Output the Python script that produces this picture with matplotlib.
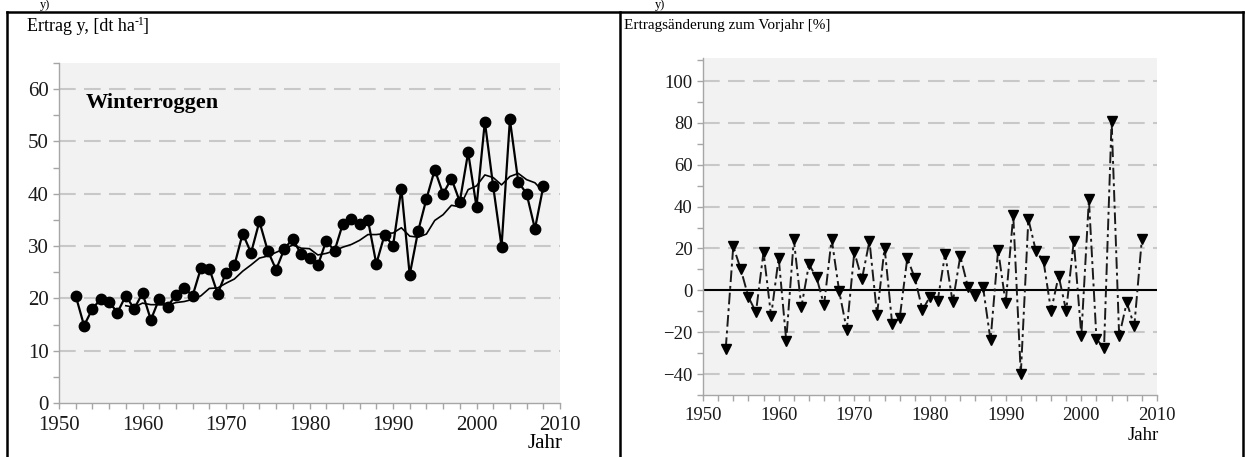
import matplotlib
matplotlib.use("Agg")
import matplotlib.pyplot as plt
from matplotlib.lines import Line2D
from matplotlib.ticker import MultipleLocator

plt.rcParams["font.family"] = ["Liberation Serif", "DejaVu Serif"]

# Winterroggen yield, dt/ha, 1952-2008
years = list(range(1952, 2009))
yield_dt = [20.5, 14.8, 18.0, 19.9, 19.3, 17.3, 20.5, 18.0, 21.0, 15.9,
            19.9, 18.4, 20.7, 22.0, 20.5, 25.8, 25.7, 20.9, 24.9, 26.3,
            32.4, 28.7, 34.7, 29.1, 25.5, 29.5, 31.4, 28.4, 27.8, 26.3,
            31.0, 29.1, 34.3, 35.2, 34.3, 35.0, 26.6, 32.2, 30.0, 41.0,
            24.5, 32.8, 39.0, 44.6, 40.0, 42.9, 38.5, 47.9, 37.5, 53.8,
            41.4, 29.9, 54.2, 42.3, 40.0, 33.3, 41.4]

# 7-year moving average line, 1958-2008
trend_years = list(range(1958, 2009))
trend = [18.6, 18.3, 19.1, 18.8, 18.8, 18.7, 19.2, 19.4, 19.8, 20.5,
         21.9, 22.0, 22.9, 23.7, 25.2, 26.4, 27.7, 28.1, 28.8, 29.5,
         30.2, 29.6, 29.5, 28.3, 28.6, 29.1, 29.8, 30.3, 31.1, 32.2,
         32.2, 32.4, 32.5, 33.5, 31.9, 31.7, 32.3, 34.9, 36.0, 37.8,
         37.5, 40.8, 41.5, 43.6, 43.1, 41.7, 43.3, 43.9, 42.7, 42.1,
         40.4]

# change against previous year, %, 1953-2008
change_years = list(range(1953, 2009))
change_pct = [-28.0, 21.0, 10.0, -3.2, -10.4, 18.3, -12.3, 15.5, -24.0, 24.3,
              -8.0, 12.4, 6.2, -7.0, 24.6, -0.5, -18.8, 18.3, 5.3, 23.6,
              -11.6, 20.4, -16.0, -13.1, 15.4, 5.8, -9.4, -3.0, -5.3, 17.5,
              -5.8, 16.3, 1.8, -2.9, 1.8, -23.9, 19.3, -6.2, 35.9, -40.0,
              34.0, 18.7, 14.0, -9.8, 6.9, -9.8, 23.6, -21.6, 43.4, -23.2,
              -27.7, 81.0, -21.9, -5.8, -17.0, 24.5]

W, H = 1245, 457
fig = plt.figure(figsize=(W / 100, H / 100), dpi=100)

GRID = "#c8c8c8"
SPINE = "#a6a6a6"
BG = "#f2f2f2"


def px_axes(x0, y0, x1, y1):
    """axes from pixel box (top-left origin)"""
    return fig.add_axes([x0 / W, 1 - y1 / H, (x1 - x0) / W, (y1 - y0) / H])


def style(ax, fs):
    ax.set_facecolor(BG)
    for s in ("top", "right"):
        ax.spines[s].set_visible(False)
    for s in ("left", "bottom"):
        ax.spines[s].set_color(SPINE)
        ax.spines[s].set_linewidth(1.0)
    ax.tick_params(which="both", direction="out", color=SPINE, length=4,
                   width=1.0, labelsize=fs, labelcolor="#1a1a1a")
    ax.xaxis.set_major_locator(MultipleLocator(10))
    ax.xaxis.set_minor_locator(MultipleLocator(2))


# ---- left: yields ----
ax1 = px_axes(59, 63, 560, 403)
style(ax1, 15)
ax1.tick_params(axis="x", pad=5)
ax1.set_xlim(1950, 2010)
ax1.set_ylim(0, 65)
ax1.yaxis.set_major_locator(MultipleLocator(10))
ax1.yaxis.set_minor_locator(MultipleLocator(5))
for v in range(10, 61, 10):
    ax1.axhline(v, color=GRID, lw=1.5, dashes=(8, 4), zorder=1)
ax1.plot(years, yield_dt, color="black", lw=1.6, marker="o", ms=7.5,
         mfc="black", mec="black", zorder=3)
ax1.plot(trend_years, trend, color="black", lw=1.2, zorder=2)
ax1.text(1953.2, 57.3, "Winterroggen", fontsize=16, fontweight="bold",
         va="center", ha="left")

# ---- right: change to previous year ----
ax2 = px_axes(703, 58, 1157, 395)
style(ax2, 13.5)
ax2.tick_params(axis="x", pad=5)
ax2.set_xlim(1950, 2010)
ax2.set_ylim(-50, 111)
ax2.yaxis.set_minor_locator(MultipleLocator(10))
ax2.set_yticks(range(-40, 101, 20))
for v in (-40, -20, 20, 40, 60, 80, 100):
    ax2.axhline(v, color=GRID, lw=1.5, dashes=(8, 4), zorder=1)
ax2.axhline(0, color="black", lw=1.5, zorder=2)
ax2.plot(change_years, change_pct, color="#1a1a1a", lw=1.4,
         linestyle=(0, (6, 2, 1.5, 2)), marker="v", ms=7.5,
         mfc="black", mec="black", zorder=3)

# ---- panel frames and labels ----
for seg in [((7, 1243), (12, 12)), ((7, 7), (12, 460)),
            ((620, 620), (12, 460)), ((1243, 1243), (12, 460))]:
    xs, ys = seg
    fig.add_artist(Line2D([x / W for x in xs], [1 - y / H for y in ys],
                          color="black", lw=1.8))

# title with a plain hyphen in the exponent
t = fig.text(27 / W, 1 - 31 / H, "Ertrag y, [dt ha", fontsize=13,
             va="baseline", ha="left")
fig.canvas.draw()
bb = t.get_window_extent()
sup = fig.text(bb.x1 / W, 1 - 25 / H, "-1", fontsize=8.5,
               va="baseline", ha="left")
fig.canvas.draw()
bb2 = sup.get_window_extent()
fig.text((bb2.x1 - 2) / W, 1 - 31 / H, "]", fontsize=13,
         va="baseline", ha="left")

fig.text(624 / W, 1 - 29 / H, "Ertragsänderung zum Vorjahr [%]",
         fontsize=11, va="baseline", ha="left")
fig.text(545 / W, 1 - 444 / H, "Jahr", fontsize=15, ha="center", va="center")
fig.text(1143 / W, 1 - 436 / H, "Jahr", fontsize=13.5, ha="center", va="center")
fig.text(40 / W, 1 - 8 / H, "y)", fontsize=9, ha="left", va="baseline")
fig.text(655 / W, 1 - 8 / H, "y)", fontsize=9, ha="left", va="baseline")

fig.savefig("out.png", dpi=100, facecolor="white")
